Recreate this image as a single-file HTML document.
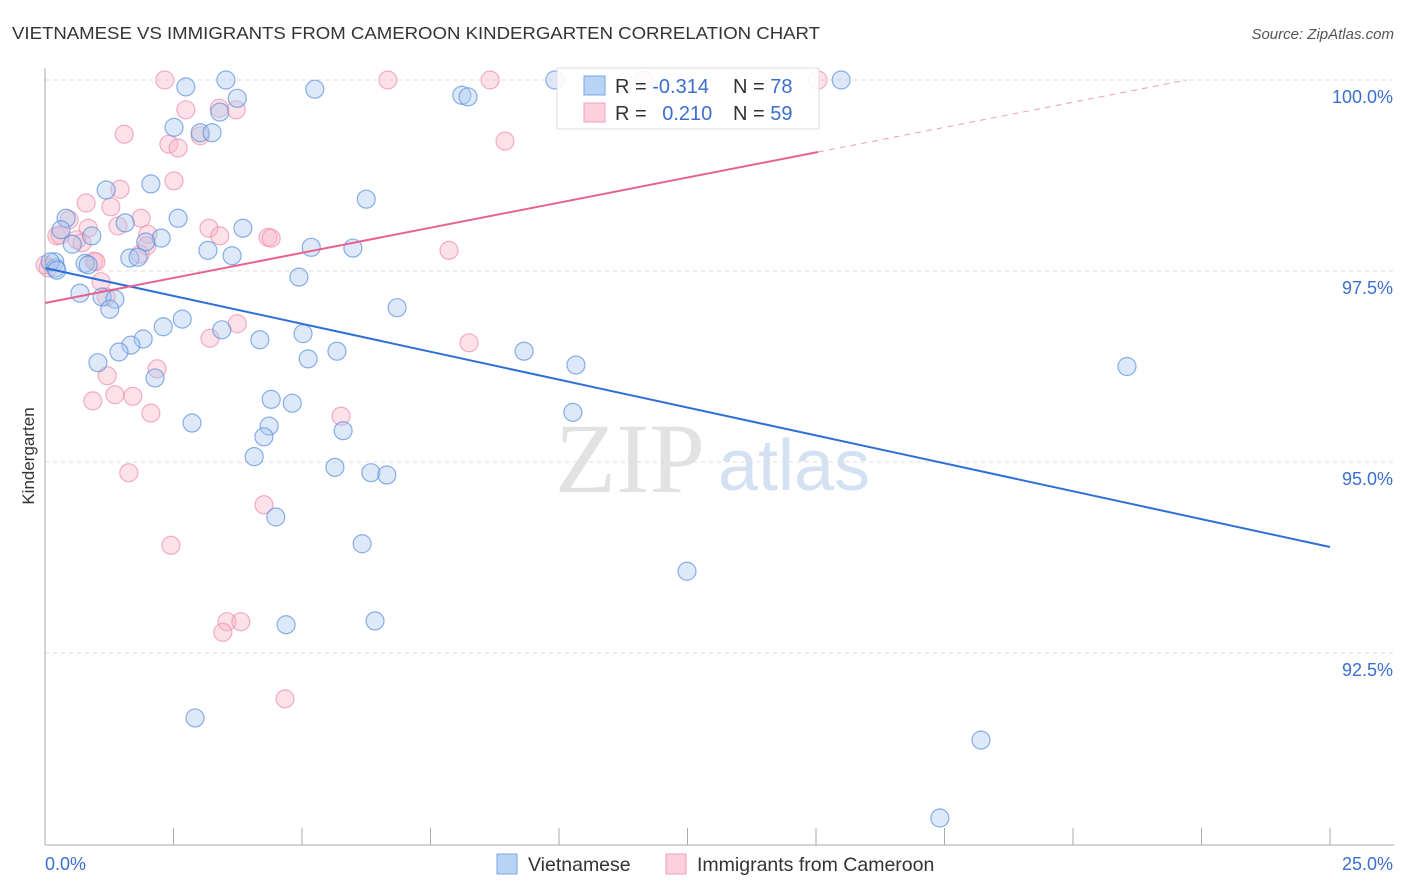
<!DOCTYPE html>
<html><head><meta charset="utf-8"><style>
body{margin:0;background:#fff;font-family:"Liberation Sans",sans-serif;}
#wrap{position:relative;width:1406px;height:892px;overflow:hidden}
</style></head><body>
<div id="wrap">
<svg id="svg" width="1406" height="892">
<text x="12" y="39" font-size="17.5" fill="#333" textLength="808" lengthAdjust="spacingAndGlyphs">VIETNAMESE VS IMMIGRANTS FROM CAMEROON KINDERGARTEN CORRELATION CHART</text>
<text x="1394" y="39" font-size="15" fill="#555" text-anchor="end" font-style="italic">Source: ZipAtlas.com</text>
<text x="34" y="456" font-size="17" fill="#333" text-anchor="middle" transform="rotate(-90 34 456)">Kindergarten</text>
<text x="555" y="492" font-size="100" fill="#e2e2e2" font-family="Liberation Serif">ZIP</text>
<text x="718" y="490" font-size="72" fill="#d3e1f3">atlas</text>
<g id="grid"></g><g id="pts"></g><g id="lines"></g><g id="axes"></g>
<g>
<rect x="557" y="68" width="262" height="61" fill="#fff" fill-opacity="0.85" stroke="#ddd"/>
<rect x="584" y="76" width="21" height="19" fill="#b9d3f5" stroke="#7aa6e6"/>
<rect x="584" y="103" width="21" height="19" fill="#fcd0dc" stroke="#f0a0b8"/>
<text x="615" y="93" font-size="20" fill="#333">R = <tspan fill="#3a6fd0">-0.314</tspan></text>
<text x="733" y="93" font-size="20" fill="#333">N = <tspan fill="#3a6fd0">78</tspan></text>
<text x="615" y="120" font-size="20" fill="#333">R = <tspan fill="#3a6fd0" dx="10">0.210</tspan></text>
<text x="733" y="120" font-size="20" fill="#333">N = <tspan fill="#3a6fd0">59</tspan></text>
</g>
<g>
<rect x="497" y="854" width="20" height="20" fill="#b9d3f5" stroke="#7aa6e6"/>
<text x="528" y="871" font-size="19.5" fill="#333">Vietnamese</text>
<rect x="666" y="854" width="20" height="20" fill="#fcd0dc" stroke="#f0a0b8"/>
<text x="697" y="871" font-size="19.5" fill="#333">Immigrants from Cameroon</text>
</g>
</svg>
</div>
<script>
const blueX=[3.52,5.25,2.74,3.74,8.11,8.23,9.92,15.49,3.40,2.51,3.02,3.25,2.06,1.19,6.25,0.41,2.59,1.56,3.85,0.31,0.91,2.26,1.96,0.53,5.18,5.99,3.17,3.64,1.65,1.81,0.19,0.78,0.84,4.94,0.68,1.11,1.36,1.26,6.85,2.67,2.30,3.44,5.02,1.91,4.18,1.67,1.44,5.68,9.32,1.03,10.33,21.05,2.14,5.12,4.40,4.81,10.27,2.86,4.36,5.80,4.26,4.07,5.64,6.34,6.65,4.49,6.17,12.49,6.42,4.69,2.92,18.21,17.41,0.21,0.10,0.23];
const blueY=[100,99.88,99.91,99.76,99.80,99.78,100,100,99.58,99.38,99.31,99.31,98.64,98.56,98.44,98.19,98.19,98.13,98.06,98.04,97.96,97.93,97.88,97.85,97.81,97.80,97.77,97.70,97.67,97.68,97.62,97.60,97.58,97.42,97.21,97.16,97.13,97.00,97.02,96.87,96.77,96.73,96.68,96.61,96.60,96.53,96.44,96.45,96.45,96.30,96.27,96.25,96.10,96.35,95.82,95.77,95.65,95.51,95.47,95.41,95.33,95.07,94.93,94.86,94.83,94.28,93.93,93.57,92.92,92.87,91.65,91.36,90.34,97.54,97.62,97.51];
const pinkX=[2.33,6.67,8.66,11.65,15.04,2.74,3.39,3.72,3.02,1.54,2.41,2.59,8.95,2.51,1.46,0.80,1.28,1.87,0.47,1.42,0.84,2.00,3.19,3.40,4.34,4.40,0.23,0.62,0.72,1.98,7.86,1.85,0.95,0.99,0.06,1.09,1.19,3.74,3.21,8.25,2.18,1.21,0.93,1.36,1.71,2.06,5.76,1.63,4.26,2.45,3.54,3.81,3.46,4.67,0.29,0.00];
const pinkY=[100,100,100,100,100,99.61,99.63,99.61,99.27,99.29,99.16,99.11,99.20,98.68,98.57,98.39,98.34,98.19,98.17,98.09,98.06,97.98,98.06,97.96,97.94,97.93,97.96,97.91,97.87,97.83,97.77,97.72,97.63,97.62,97.54,97.36,97.16,96.81,96.62,96.56,96.22,96.13,95.80,95.88,95.86,95.64,95.60,94.86,94.44,93.91,92.91,92.91,92.77,91.90,97.97,97.58];
const yTicks=[100,97.5,95,92.5];
const yTickLabels=["100.0%","97.5%","95.0%","92.5%"];
const xTicks=[0,2.5,5,7.5,10,12.5,15,17.5,20,22.5,25];
const blueTrend=[97.539,93.887];
const pinkTrend=[97.081,0.1314];

const NS="http://www.w3.org/2000/svg";
const sx=v=>45+v*51.4, sy=v=>80+(100-v)*76.4;
function mk(tag,at,parent){const e=document.createElementNS(NS,tag);for(const k in at)e.setAttribute(k,at[k]);document.getElementById(parent).appendChild(e);return e;}
yTicks.forEach((t,i)=>{
 const l=mk('line',{x1:45,x2:1394,y1:sy(t),y2:sy(t),stroke:'#ddd','stroke-dasharray':'4,4'},'grid');
 
 
 const tx=mk('text',{x:1393,y:sy(t)+23,'font-size':18,fill:'#3a6fd0','text-anchor':'end'},'axes');
 tx.textContent=yTickLabels[i];
 
 
});
const ax=mk('line',{x1:45,x2:45,y1:68,y2:845,stroke:'#aaa'},'axes');


const bx=mk('line',{x1:45,x2:1394,y1:845,y2:845,stroke:'#aaa'},'axes');


xTicks.forEach(t=>{
 const l=mk('line',{x1:sx(t),x2:sx(t),y1:828,y2:845,stroke:'#aaa'},'axes');
 
 
});
const x0=mk('text',{x:45,y:870,'font-size':18,fill:'#3a6fd0'},'axes');x0.textContent='0.0%';


const x1=mk('text',{x:1393,y:870,'font-size':18,fill:'#3a6fd0','text-anchor':'end'},'axes');x1.textContent='25.0%';


function pts(X,Y,fill,stroke,name){X.forEach((x,i)=>{
 const c=mk('circle',{cx:sx(x),cy:sy(Y[i]),r:9,fill:fill,'fill-opacity':0.4,stroke:stroke,'stroke-opacity':0.7,'stroke-width':1.2},'pts');
 
 
});}
pts(pinkX,pinkY,'#f7b3c6','#ec8fac','point-cameroon');
pts(blueX,blueY,'#aac8f0','#5a8fdc','point-vietnamese');
const bl=mk('line',{x1:sx(0),y1:sy(blueTrend[0]),x2:sx(25),y2:sy(blueTrend[1]),stroke:'#2f6fd6','stroke-width':2},'lines');


const xs=15.04, xe=(100-pinkTrend[0])/pinkTrend[1];
const pl=mk('line',{x1:sx(0),y1:sy(pinkTrend[0]),x2:sx(xs),y2:sy(pinkTrend[0]+pinkTrend[1]*xs),stroke:'#e8628f','stroke-width':2},'lines');


const pd=mk('line',{x1:sx(xs),y1:sy(pinkTrend[0]+pinkTrend[1]*xs),x2:sx(xe),y2:sy(100),stroke:'#e8a0b8','stroke-width':1,'stroke-dasharray':'6,5'},'lines');


</script>
</body></html>
